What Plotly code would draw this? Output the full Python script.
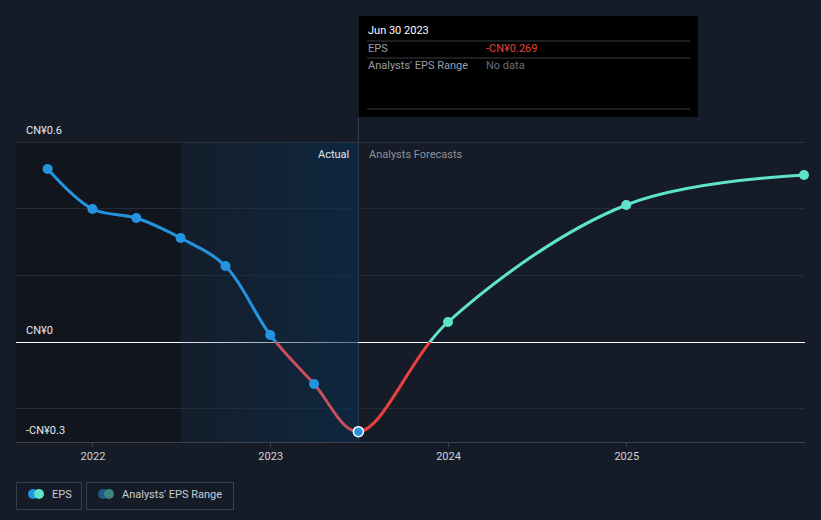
import plotly.graph_objects as go
import pandas as pd

# ---- data ----
actual_dates = ['2021-09-30', '2021-12-31', '2022-03-31', '2022-06-30',
                '2022-09-30', '2022-12-31', '2023-03-31', '2023-06-30']
actual_eps = [0.519, 0.399, 0.372, 0.312, 0.228, 0.021, -0.126, -0.269]

forecast_dates = ['2023-06-30', '2023-12-31', '2024-12-31', '2025-12-31']
forecast_eps = [-0.269, 0.06, 0.411, 0.501]

y_gridvals = [-0.3, -0.2, 0, 0.2, 0.4, 0.6]
y_labelvals = [0.6, 0, -0.3]
y_labeltext = ['CN¥0.6', 'CN¥0', '-CN¥0.3']
x_tickvals = ['2022-01-01', '2023-01-01', '2024-01-01', '2025-01-01']
x_ticktext = ['2022', '2023', '2024', '2025']

x_range = ['2021-07-27', '2026-01-02']
y_range = [-0.3, 0.6]
actual_start = '2022-06-30'
divider = '2023-06-30'

BG = '#161c27'
BLUE = '#2594e0'
TEAL = '#5ee3cd'
RED = '#e6403f'
RED_MUTED = '#c84f5b'
FONT = 'Roboto, Arial, sans-serif'

W, H = 821, 520
L, R, T, B = 16, 16, 142, 78
pw, ph = W - L - R, H - T - B


def px_x(p):
    return (p - L) / pw


def px_y(p):
    return (H - B - p) / ph


# combined series (shared point at the divider) so the curve is continuous
all_dates = actual_dates + forecast_dates[1:]
all_eps = actual_eps + forecast_eps[1:]

zero_frac = (0 - y_range[0]) / (y_range[1] - y_range[0])
t0, t1, td = (pd.Timestamp(v) for v in (x_range[0], x_range[1], divider))
div_frac = (td - t0) / (t1 - t0)

fig = go.Figure()

# Shaded "Actual" region with horizontal gradient
fig.add_trace(go.Scatter(
    x=[actual_start, divider, divider, actual_start, actual_start],
    y=[y_range[0], y_range[0], y_range[1], y_range[1], y_range[0]],
    mode='lines', line=dict(width=0), fill='toself',
    fillgradient=dict(type='horizontal',
                      colorscale=[[0, 'rgba(10,45,75,0.12)'], [1, 'rgba(10,45,80,0.62)']]),
    hoverinfo='skip', showlegend=False, xaxis='x', yaxis='y'))


def seg(xax, yax, color):
    fig.add_trace(go.Scatter(x=all_dates, y=all_eps, mode='lines',
                             line=dict(color=color, width=3, shape='spline', smoothing=1,
                                       simplify=False),
                             hoverinfo='skip', showlegend=False, xaxis=xax, yaxis=yax))


seg('x2', 'y2', BLUE)
seg('x2', 'y3', RED_MUTED)
seg('x3', 'y2', TEAL)
seg('x3', 'y3', RED)

# Markers on top
fig.add_trace(go.Scatter(x=actual_dates[:-1], y=actual_eps[:-1], mode='markers',
                         marker=dict(color=BLUE, size=10),
                         cliponaxis=False, hoverinfo='skip', showlegend=False,
                         xaxis='x4', yaxis='y4'))
fig.add_trace(go.Scatter(x=actual_dates[-1:], y=actual_eps[-1:], mode='markers',
                         marker=dict(color=BLUE, size=10, line=dict(color='white', width=1.5)),
                         cliponaxis=False, hoverinfo='skip', showlegend=False,
                         xaxis='x4', yaxis='y4'))
fig.add_trace(go.Scatter(x=forecast_dates[1:], y=forecast_eps[1:], mode='markers',
                         marker=dict(color=TEAL, size=10),
                         cliponaxis=False, hoverinfo='skip', showlegend=False,
                         xaxis='x4', yaxis='y4'))

shapes = []
# dark region before the actual period
shapes.append(dict(type='rect', xref='x', yref='paper', x0=x_range[0], x1=actual_start,
                   y0=0, y1=1, fillcolor='#11151d', line=dict(width=0), layer='below'))
# top line
shapes.append(dict(type='line', xref='paper', yref='y', x0=0, x1=1, y0=0.6, y1=0.6,
                   line=dict(color='#40464f', width=1)))
# divider vertical line
shapes.append(dict(type='line', xref='x', yref='paper', x0=divider, x1=divider,
                   y0=0, y1=px_y(117), line=dict(color='#36404d', width=1), layer='below'))
# tooltip box
shapes.append(dict(type='rect', xref='paper', yref='paper', x0=px_x(359), x1=px_x(698),
                   y0=px_y(117), y1=px_y(16), fillcolor='#000000', line=dict(width=0)))
for yy in (41, 58, 109):
    shapes.append(dict(type='line', xref='paper', yref='paper', x0=px_x(367), x1=px_x(690),
                       y0=px_y(yy), y1=px_y(yy), line=dict(color='#3d3f44', width=1)))

# legend boxes
shapes.append(dict(type='rect', xref='paper', yref='paper', x0=px_x(16.5), x1=px_x(81.5),
                   y0=px_y(509.5), y1=px_y(482.5), fillcolor='rgba(0,0,0,0)',
                   line=dict(color='#3a404b', width=1)))
shapes.append(dict(type='rect', xref='paper', yref='paper', x0=px_x(86.5), x1=px_x(233.5),
                   y0=px_y(509.5), y1=px_y(482.5), fillcolor='rgba(0,0,0,0)',
                   line=dict(color='#3a404b', width=1)))


def circle(cx, cy, r, color):
    return dict(type='circle', xref='paper', yref='paper', xsizemode='pixel', ysizemode='pixel',
                xanchor=px_x(cx), yanchor=px_y(cy), x0=-r, x1=r, y0=-r, y1=r,
                fillcolor=color, line=dict(width=0))


shapes += [circle(33, 494, 5, BLUE), circle(39, 494, 5, TEAL),
           circle(103, 494, 5, '#1f5a8c'), circle(109, 494, 5, '#3a857c')]

annotations = []


def text(t, x, y, color, size=11, anchor='left'):
    annotations.append(dict(text=t, xref='paper', yref='paper', x=px_x(x), y=px_y(y),
                            xanchor=anchor, yanchor='middle', showarrow=False,
                            font=dict(family=FONT, size=size, color=color)))


# y-axis labels, placed on the axis scale just above their gridlines
for v, t in zip(y_labelvals, y_labeltext):
    annotations.append(dict(text=t, xref='paper', yref='y', x=px_x(24), y=v,
                            xanchor='left', yanchor='bottom', yshift=3, showarrow=False,
                            font=dict(family=FONT, size=11, color='#e6e8ec')))

text('Jun 30 2023', 366, 31, '#ffffff', 11)
text('EPS', 366, 49, '#9a9ea6', 11)
text('-CN¥0.269', 484, 49, RED, 11)
text("Analysts' EPS Range", 366, 66, '#9a9ea6', 11)
text('No data', 484, 66, '#6a6e75', 11)
text('Actual', 351, 154, '#e4e6ea', 11, anchor='right')
text('Analysts Forecasts', 367, 154, '#8c9098', 11)
text('EPS', 50, 494, '#c8ccd2', 11)
text("Analysts' EPS Range", 120, 494, '#c8ccd2', 11)

hidden = dict(showgrid=False, showticklabels=False, zeroline=False, showline=False,
              ticks='', fixedrange=True)

fig.update_layout(
    width=W, height=H,
    margin=dict(l=L, r=R, t=T, b=B),
    paper_bgcolor=BG, plot_bgcolor='rgba(0,0,0,0)',
    showlegend=False, hovermode=False,
    font=dict(family=FONT, size=11, color='#d0d4da'),
    xaxis=dict(type='date', range=x_range, tickvals=x_tickvals, ticktext=x_ticktext,
               showgrid=False, showline=True, linecolor='#3a414d', linewidth=1,
               ticks='outside', ticklen=4, tickcolor='#3a414d',
               tickfont=dict(family=FONT, size=11, color='#d0d4da'), zeroline=False,
               anchor='y', domain=[0, 1]),
    xaxis2=dict(type='date', range=[x_range[0], divider], domain=[0, div_frac],
                anchor='y2', **hidden),
    xaxis3=dict(type='date', range=[divider, x_range[1]], domain=[div_frac, 1],
                anchor='y2', **hidden),
    xaxis4=dict(type='date', range=x_range, domain=[0, 1], anchor='y4', **hidden),
    yaxis=dict(range=y_range, tickvals=y_gridvals, showticklabels=False,
               showgrid=True, gridcolor='#262c37', gridwidth=1,
               zeroline=True, zerolinecolor='#ffffff', zerolinewidth=1,
               ticks='', showline=False, domain=[0, 1], anchor='x'),
    yaxis2=dict(range=[0, y_range[1]], domain=[zero_frac, 1], anchor='x2', **hidden),
    yaxis3=dict(range=[y_range[0], 0], domain=[0, zero_frac], anchor='x2', **hidden),
    yaxis4=dict(range=y_range, domain=[0, 1], anchor='x4', **hidden),
    shapes=shapes,
    annotations=annotations,
)

fig.write_html('out.html')
